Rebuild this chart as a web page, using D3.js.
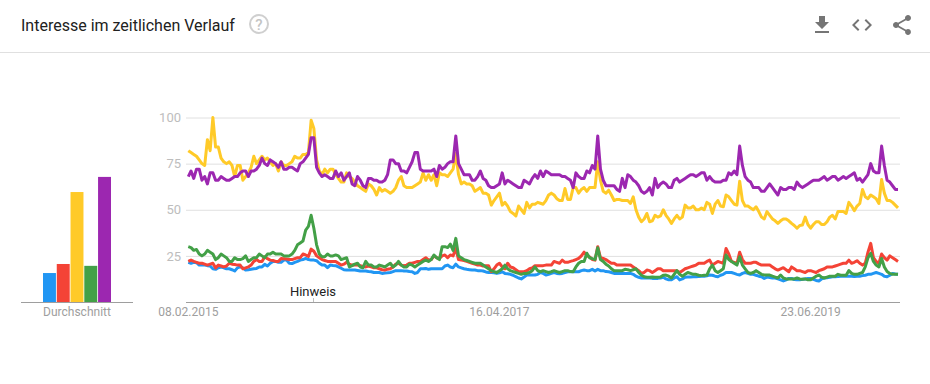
<!DOCTYPE html>
<html><head><meta charset="utf-8">
<script src="https://cdnjs.cloudflare.com/ajax/libs/d3/7.8.5/d3.min.js"></script>
<style>html,body{margin:0;padding:0;background:#fff}svg{display:block}text{font-family:Roboto,sans-serif}</style>
</head><body><svg id="c" width="930" height="384"></svg>
<script>
const seriesNames=["Blau","Rot","Gelb","Grün","Lila"];
const seriesColors=["#2196F3","#F44336","#FFCA28","#43A047","#9C27B0"];
const averages=[15.7,20.6,59.6,19.6,67.8];
const yTicks=[25,50,75,100];
const xTickWeeks=[0,114,228];
const xTickLabels=["08.02.2015","16.04.2017","23.06.2019"];
const blue=[21.5,21,21.5,21.3,20,20,20,19.7,19.5,18,17.7,18.6,19,18.5,18,18,17.5,16.8,18.5,19,18.5,17.3,17.5,17.7,18,18.2,19,19,20.4,19.5,21,22,22,21.5,21.5,22.7,22.7,21,20.8,21.5,22,22.7,23,23.6,23,22.7,22.7,22.4,21,20,20,18.6,20,19.8,19.7,19,18.3,17.5,17.3,17.3,17.3,17.3,17.1,16.8,16.8,16.8,16.5,16.4,16,16,16,15.5,15.7,15.8,16,16.5,17,17,17,16.8,16.8,
16.5,16.4,15.5,16,18,18,18.2,17.7,18,18,18,18,18,19.5,20,19,18.6,20.5,19,18.5,18,17.7,17.5,17.3,17.3,17,17,16.8,16.3,16,16,15.8,15.5,15.8,16.4,15.5,15.3,15,14.5,13.7,13,12.5,13.5,14.6,14.6,14.6,14.6,15,16,15.5,14.6,15,15.5,16,15.5,15.3,15.5,16,16.4,16.4,16.4,16.4,16.4,17,17.3,17,17,17.7,16.8,17.7,17,17,16.5,16.4,16,15.5,15.5,15.5,15.5,15.5,15.5,15.5,15,14,13.4,13,13,13,13,12.8,12.8,12.8,
13,13.4,12.5,12,12,13,13.7,12,12.5,13.4,13.5,13.6,13.7,13.7,13.8,14,14,14.2,14.6,14.5,14,13.7,14.5,15,16,16,16,15.5,15,14.6,15.5,16,15.5,15,15,14.5,14,13.7,12.8,13.5,13.3,13,13,12.5,12,11.4,12,12.8,12.8,12.2,12,12,12.3,12.5,12.7,12.8,12.3,11.7,11.4,12.5,13,13.2,13.4,13.7,13.7,13.8,14,14,14,14,14,13.8,14,14,14.3,14.5,15,15,15.5,16,15.5,15,14,13.7,14.5,15.5,15.2,15];
const red=[22,22.7,22,21.5,21,21,20.5,20,20.5,21,18.5,20,19.5,19,19.5,21,20.5,20.3,20,20,18,18.5,19,20,22,23,22,22,24.5,23.5,22.7,22.5,22,22,23.6,23.5,23.3,23,23,23.5,24,24,26,25.5,24.7,28.7,27.5,25,24,23,22.5,22,22,22,22,21,20,20.5,21.5,20.5,20,20,20,19.7,19.3,19,19.5,19,18.5,18.5,18,17.5,17.3,17.8,18,19,20.5,21,20,19.7,20,
21,21,21.5,22,22,23,24,22.7,23,25,24,23.6,25,25.5,24,25.5,25,29,23,22.7,22.5,22,21.5,21,20.5,20,20,19.5,19.7,19.7,16.4,18,20,21,19,18,21,19,18.6,17.5,16.4,16.4,16.4,17,18,18.5,19.7,19.7,19.7,19.7,20,20,20,22,21.5,21,22.7,21.5,21.5,22,22.4,23,23.6,25,27,25,24.5,23,22.7,30,24,23.6,23,22,21,21,20,20,20,20,20,20,19,18,17,15.5,16,17.3,17,16,17,18,
18,17,17,17,17,17,17,16,17,18,18.5,19,19.5,20,21,21,21,22,22.7,20,21,22,21.5,21,29,26,22,21.5,21,27,23,21,21,21,21.5,21.5,20.7,20,20,20,20,19,18,17.3,18,18.6,17.5,16.4,19,18,17,17,16.5,16,17,17,16.5,16,17,17.5,18,19,19,19,19.5,20,20.5,21,21,22.7,21,21.5,22.4,21,20,21,27,31.8,24,22,21,26,24,22.7,25,24,23,22];
const yellow=[82,81,80,79,77,75,74,88,82,100,84,84,78,76,75,76,74,68,74,74,66,68,70,73,79,75,77,79,77,78,76,74,75,71,76,74,74,75,76,79,78,78,80,80,81,98.5,94,77,71,69,72,70,72,72,69,67,65,65,70,68,67,65,63,62,61,60,64,63,61,58,62,60,61,60,59,60,62,66,68,63,62,
62,62,63,64,65,70,66,69,66,69,63,70,69,69,68,70,72,80.5,69,64,65,64,64,63,60,61,62,59,59,58,52.5,55,57,59,52.5,54,52,49,48,46.6,52,50,48,54,51,53,53,54,53.5,53,55,58,59,58,56,55,55,61.5,55.6,55.6,62,62,59,61,62,60,62,62,62,76,66,60,59,60.6,58,55,55.6,55.5,55,55,55,53.4,57,50,46,43.5,45,48,43.5,44,47,46,
46.7,50,47,45,42.6,45,47,45,46,52.5,51,51,52,50,50,51,50,54,53,48,53,55,52,51.6,58,57,55,53,52.5,65.5,55,52,52,51,50,51.6,49,46,45,49,47,45,44,42.6,44,45,45,44,42.6,41.5,40,41.5,41.7,46,42,40,42,43.5,43.5,42,42,43.5,46,47,45,49,49,49,48,54,52,49.5,52,53.4,61,57,56,58,57,56,53.4,66.4,59,55,55,54,52.5,51];
const green=[30,29.5,28,28.5,26,25,26,28,27,26,23,24,26,25,24,22,22,24,23,23,23.5,25,22,23,24,24,26,25,24,26,26,27,26,26,26,25,25,25,26,28,31,32,33,39,41,47,40,31,26,24.5,24.5,26,25,25,25.5,25,23,23.5,24,19,19.7,20.5,21,19,18.6,22,20,20,19,19,20,19.5,19,20,21,19,20,22,20,19,19,
20.5,20,19,20,21,22,22.7,22,23,25.5,24,23,30,30,29.5,31.4,28,34.5,25,24,23,22.5,22,21.5,21,21,21,20,19,18,17,16.5,16,17,18,20,18,17,16.5,16,15.5,15,15.5,15.5,16,17,19,17,16.4,17,16.5,16,16.4,17,16.5,16,16.5,17,17,16.5,16.4,19,21,22,22,26.4,24,23.5,23,29.4,23,22,20.5,19.5,18,17,17,17,17,17.7,17.5,17,17.5,18,16,14.5,13.7,13.4,13.4,13.6,13.4,13.4,
13.5,14.5,14.6,14,13,15,17,15,14,15,16,15.5,15,15,14.5,14.3,14.5,14.6,18,20,17,16,17,18,25.5,23,22,21,20,24.5,20,18,16,15.5,16,17,16,15,14.6,14.6,14.6,14,13.5,13,14.6,13,12.5,12.5,12.5,12.5,13,12.5,12.3,12.5,12,12,13,14,14.6,13.5,13,13.5,14,14,14,15,14.5,14.5,14.5,17,15.5,15,15,15.5,16,19,24,26.4,22,20,19,23.6,19,16.5,15.5,15,15,15];
const purple=[68,71,67,72,72,66,68,64,70,70,66,66,68,67,66,66,67,68,68,70,71,71,68,71,71,72,74,78,75,74,77,76,75,73,76,72,72,73,73,72,71,75,76,78,80,89,89,73,70,68,69,68,67,67,71,68,70,66,68,70,64,63,68,66,63,62,67,67,66,66,65,65,66,69,77,77,75,75,71,71,70,
73,76,81,81,72,71,71,71,71,72,68,74,72,73,75,76,76,90,75,72,69,69,69,66,66,68,71,67,66,63,62,62,63,64,70,64,66,65,64,63,62,62,66,65,64,67,69,67,71,68,71,70,69,69,69,69,68,68,67,66,62,70,68,67,67,71,70,74,72,90,72,66,63,63,63,63,61,60,67,62,69,68,66,65,63,60,59,60,62,58,67,62,64,
65,64,62,62,66,67,65,66,67,68,69,69,68,69,70,70,66,68,66,65,65,65,66,66,70,69,71,69,84.5,74,68,66,65,62,62,62,60,60,62,64,62,60,58,62,61,61,62,62,61,65,63,62,63,64,65,66,66,66,67,68,66,67,68,68,66,67,68,67,68,69,70,66,67,65,67,69,75,71,70,70,84.5,74,66,65,63,61,61];
const seriesValues=[blue,red,yellow,green,purple];

const svg=d3.select("#c");
const y=d3.scaleLinear().domain([0,100]).range([302,117.5]);
const x=d3.scaleLinear().domain([0,260]).range([188.3,898]);

// header
svg.append("text").attr("x",21).attr("y",30.5).attr("font-size",16).attr("fill","#212121").text("Interesse im zeitlichen Verlauf");
svg.append("line").attr("x1",0).attr("x2",930).attr("y1",52.5).attr("y2",52.5).attr("stroke","#e0e0e0");
svg.append("circle").attr("cx",259).attr("cy",24).attr("r",9).attr("fill","none").attr("stroke","#cfcfcf").attr("stroke-width",2);
svg.append("text").attr("x",259).attr("y",29.5).attr("text-anchor","middle").attr("font-size",15).attr("font-weight",500).attr("fill","#c4c4c4").text("?");
const icons=[[810,13,"M19 9h-4V3H9v6H5l7 7 7-7zM5 18v2h14v-2H5z"],
[850,13,"M9.4 16.6L4.8 12l4.6-4.6L8 6l-6 6 6 6 1.4-1.4zm5.2 0l4.6-4.6-4.6-4.6L16 6l6 6-6 6-1.4-1.4z"],
[890,13,"M18 16.08c-.76 0-1.44.3-1.96.77L8.91 12.7c.05-.23.09-.46.09-.7s-.04-.47-.09-.7l7.05-4.11c.54.5 1.25.81 2.04.81 1.66 0 3-1.34 3-3s-1.34-3-3-3-3 1.34-3 3c0 .24.04.47.09.7L8.04 9.81C7.5 9.31 6.79 9 6 9c-1.66 0-3 1.34-3 3s1.34 3 3 3c.79 0 1.5-.31 2.04-.81l7.12 4.16c-.05.21-.08.43-.08.65 0 1.61 1.31 2.92 2.92 2.92 1.61 0 2.92-1.31 2.92-2.92s-1.31-2.92-2.92-2.92z"]];
svg.selectAll(".icon").data(icons).join("path").attr("class","icon").attr("transform",d=>`translate(${d[0]},${d[1]})`).attr("d",d=>d[2]).attr("fill","#757575");

// gridlines and y labels
const yAxis=d3.axisLeft(y).tickValues(yTicks).tickSize(-714).tickPadding(5).tickFormat(d3.format("d"));
const yG=svg.append("g").attr("transform","translate(186,0)").call(yAxis);
yG.select(".domain").remove();
yG.selectAll("line").attr("stroke","#e0e0e0");
yG.selectAll("text").attr("font-size",13).attr("font-family","Roboto").attr("fill","#bdbdbd");

// x axis
svg.append("line").attr("x1",186).attr("x2",900).attr("y1",302.5).attr("y2",302.5).attr("stroke","#9e9e9e").attr("stroke-width",1);
svg.selectAll(".xl").data(xTickWeeks).join("text").attr("class","xl").attr("x",d=>x(d)).attr("y",315.5).attr("text-anchor","middle").attr("font-size",12).attr("fill","#9e9e9e").text((d,i)=>xTickLabels[i]);

// note
svg.append("text").attr("x",313).attr("y",296).attr("text-anchor","middle").attr("font-size",13).attr("fill","#212121").text("Hinweis");
svg.append("line").attr("x1",313.5).attr("x2",313.5).attr("y1",298).attr("y2",302).attr("stroke","#bdbdbd");

// lines
const line=d3.line().x((d,i)=>x(i)).y(d=>y(d));
svg.selectAll(".s").data(seriesValues).join("path").attr("class","s").attr("d",line).attr("fill","none").attr("stroke",(d,i)=>seriesColors[i]).attr("stroke-width",3).attr("stroke-linejoin","round");

// average bars
const bx=d3.scaleBand().domain(seriesNames).range([43,111]).paddingInner(0.06);
svg.selectAll(".b").data(averages).join("rect").attr("class","b").attr("x",(d,i)=>bx(seriesNames[i])).attr("width",bx.bandwidth()).attr("y",d=>y(d)).attr("height",d=>302-y(d)).attr("fill",(d,i)=>seriesColors[i]);
svg.append("line").attr("x1",21).attr("x2",133).attr("y1",302.5).attr("y2",302.5).attr("stroke","#9e9e9e");
svg.append("text").attr("x",77).attr("y",315.5).attr("text-anchor","middle").attr("font-size",12).attr("fill","#9e9e9e").text("Durchschnitt");
</script></body></html>
